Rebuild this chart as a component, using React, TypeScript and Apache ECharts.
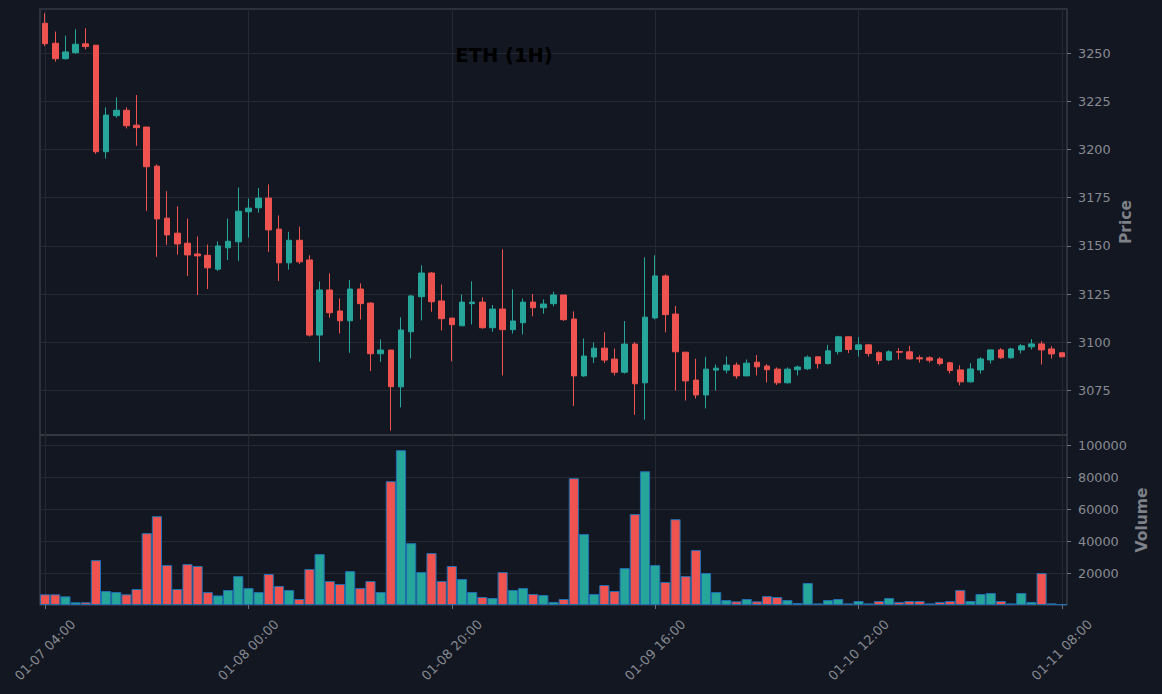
import React, { useEffect, useRef } from "react";
import * as echarts from "echarts";

const TITLE = "ETH (1H)";
const START_MONTH = 1;
const START_DAY = 7;
const START_HOUR = 4;
const HOURS = 101;

const OPENS = [
  3265.6, 3255.2, 3247.2, 3250.3, 3254.9, 3254.2, 3198.9, 3217.6, 3220.4, 3212.7,
  3211.7, 3191.4, 3164.4, 3156.6, 3151.4, 3145.8, 3145.1, 3137.9, 3149.0, 3152.1,
  3167.7, 3169.8, 3174.8, 3158.7, 3141.2, 3152.9, 3142.7, 3103.7, 3127.1, 3116.2,
  3111.1, 3127.6, 3120.3, 3094.0, 3095.9, 3076.8, 3105.4, 3123.6, 3135.9, 3121.4,
  3112.5, 3108.5, 3120.0, 3120.8, 3107.5, 3117.2, 3106.5, 3110.1, 3120.8, 3117.9,
  3120.0, 3124.5, 3112.0, 3082.5, 3092.3, 3096.9, 3091.2, 3084.4, 3099.0, 3078.9,
  3112.6, 3134.4, 3114.6, 3094.8, 3080.3, 3072.6, 3085.5, 3085.5, 3088.1, 3082.5,
  3089.6, 3087.6, 3086.0, 3078.9, 3085.7, 3086.2, 3092.4, 3088.9, 3095.1, 3102.8,
  3096.2, 3098.6, 3094.5, 3090.8, 3095.1, 3095.0, 3091.9, 3091.9, 3091.3, 3089.3,
  3085.6, 3079.4, 3085.6, 3090.8, 3096.0, 3091.9, 3096.0, 3097.6, 3099.1, 3096.5,
  3094.5,
];
const CLOSES = [
  3255.0, 3247.2, 3250.7, 3254.7, 3253.5, 3198.9, 3217.9, 3220.4, 3212.4, 3211.4,
  3191.1, 3164.0, 3155.7, 3151.0, 3145.3, 3144.8, 3138.6, 3150.0, 3152.4, 3168.0,
  3169.6, 3174.8, 3158.3, 3141.2, 3152.9, 3141.7, 3103.7, 3127.1, 3115.3, 3111.1,
  3127.6, 3120.0, 3094.0, 3095.9, 3076.9, 3106.3, 3124.0, 3135.9, 3121.0, 3112.2,
  3109.1, 3120.8, 3120.8, 3107.5, 3117.2, 3106.5, 3111.0, 3120.8, 3117.9, 3119.8,
  3124.5, 3111.7, 3082.5, 3092.8, 3096.9, 3090.7, 3084.4, 3099.0, 3078.4, 3113.0,
  3134.4, 3114.3, 3095.0, 3079.9, 3072.6, 3086.0, 3086.5, 3088.1, 3082.5, 3089.1,
  3087.2, 3085.7, 3078.9, 3086.0, 3087.1, 3092.2, 3088.9, 3095.5, 3102.8, 3096.2,
  3098.6, 3094.1, 3090.5, 3095.0, 3094.8, 3091.3, 3091.3, 3090.6, 3088.9, 3085.3,
  3079.4, 3086.1, 3091.3, 3096.0, 3091.9, 3096.5, 3098.1, 3099.1, 3096.0, 3093.9,
  3092.4,
];
const LOWS = [
  3253.8, 3245.7, 3246.7, 3249.8, 3252.0, 3197.8, 3195.4, 3216.6, 3211.0, 3202.0,
  3168.2, 3144.3, 3150.5, 3145.5, 3134.4, 3124.5, 3127.6, 3137.0, 3142.7, 3142.2,
  3154.3, 3167.3, 3146.9, 3131.8, 3137.7, 3140.6, 3102.9, 3089.8, 3112.7, 3104.5,
  3094.5, 3111.8, 3085.0, 3089.8, 3054.1, 3066.1, 3091.6, 3111.3, 3115.8, 3106.1,
  3090.0, 3108.5, 3109.2, 3107.0, 3105.4, 3082.7, 3104.5, 3104.0, 3113.4, 3114.8,
  3118.6, 3111.0, 3066.9, 3082.0, 3089.2, 3089.2, 3082.7, 3083.7, 3062.3, 3059.8,
  3111.8, 3105.1, 3074.9, 3069.7, 3070.7, 3065.6, 3074.9, 3083.8, 3081.0, 3082.5,
  3082.7, 3079.1, 3077.8, 3078.6, 3082.7, 3085.5, 3086.3, 3088.4, 3093.6, 3094.3,
  3092.5, 3092.5, 3088.4, 3090.3, 3091.0, 3091.0, 3089.4, 3089.4, 3087.9, 3083.7,
  3077.6, 3079.0, 3083.7, 3088.9, 3091.3, 3091.5, 3094.1, 3096.2, 3088.4, 3091.5,
  3092.2,
];
const HIGHS = [
  3270.8, 3261.3, 3259.2, 3262.5, 3263.0, 3254.2, 3221.9, 3227.1, 3221.9, 3228.3,
  3211.7, 3192.3, 3178.4, 3170.5, 3164.2, 3154.9, 3150.7, 3152.3, 3164.2, 3180.3,
  3174.6, 3180.0, 3181.9, 3165.8, 3157.3, 3160.0, 3145.1, 3131.6, 3135.7, 3122.7,
  3132.3, 3130.5, 3120.7, 3101.4, 3095.9, 3112.9, 3124.5, 3139.9, 3136.4, 3130.0,
  3112.5, 3124.8, 3131.6, 3123.3, 3119.3, 3148.2, 3127.4, 3122.7, 3125.0, 3122.2,
  3126.2, 3124.5, 3116.0, 3101.9, 3099.9, 3105.1, 3096.7, 3111.0, 3100.0, 3144.0,
  3145.1, 3135.2, 3118.8, 3094.8, 3091.4, 3092.4, 3088.4, 3092.6, 3089.5, 3091.0,
  3093.3, 3088.6, 3086.9, 3086.9, 3087.9, 3093.1, 3092.4, 3098.6, 3103.3, 3102.8,
  3102.6, 3099.1, 3095.3, 3095.8, 3096.9, 3098.1, 3093.2, 3092.7, 3092.2, 3089.8,
  3088.0, 3089.1, 3092.2, 3096.0, 3096.9, 3097.1, 3099.0, 3101.6, 3100.5, 3097.9,
  3094.8,
];
const VOLUMES = [
  6700, 6700, 5400, 1700, 1700, 28100, 8750, 8100, 6700, 10000,
  45000, 55600, 25000, 10000, 25600, 24400, 8100, 6000, 9400, 18100,
  10600, 8100, 19400, 11900, 9400, 3750, 22500, 31900, 15000, 13100,
  21200, 10600, 15000, 8100, 77500, 96900, 38700, 20600, 32500, 15000,
  24400, 16250, 8100, 5000, 4400, 20600, 9400, 10600, 6900, 6250,
  1900, 3750, 79400, 44400, 6900, 12500, 8750, 23100, 56900, 83700,
  25000, 14400, 53700, 18100, 34400, 20000, 8100, 3100, 2300, 3750,
  2300, 5600, 5000, 3100, 1250, 13750, 1000, 3100, 3750, 1000,
  2500, 1000, 2500, 4400, 1900, 2500, 2500, 1000, 1900, 2500,
  9400, 2500, 6900, 7500, 2500, 1000, 7500, 1900, 20000, 1000,
  500,
];

const PRICE_TICKS = [3075, 3100, 3125, 3150, 3175, 3200, 3225, 3250];
const VOLUME_TICKS = [20000, 40000, 60000, 80000, 100000];
const PRICE_MIN = 3051.8;
const PRICE_MAX = 3273;
const VOLUME_MAX = 106400;
const LABEL_EVERY = 20;

const BG = "#131722";
const UP = "#26a69a";
const DOWN = "#ef5350";
const EDGE = "#1f6fb2";
const FRAME = "#383b44";
const GRID = "#252932";
const LABEL = "#888b92";
const NAME = "#7e8188";
const FONT = "DejaVu Sans";

function pad(n: number): string {
  return n < 10 ? "0" + n : String(n);
}

function makeCategories(): string[] {
  const out: string[] = [];
  for (let i = 0; i < HOURS; i++) {
    const total = START_HOUR + i;
    const day = START_DAY + Math.floor(total / 24);
    const hour = total % 24;
    out.push(pad(START_MONTH) + "-" + pad(day) + " " + pad(hour) + ":00");
  }
  return out;
}

const plain = (v: number) => String(v);

export default function App() {
  const ref = useRef<HTMLDivElement>(null);

  useEffect(() => {
    document.body.style.margin = "0";
    document.body.style.background = BG;
    const el = ref.current;
    if (!el) return;
    const chart = echarts.init(el, null, { renderer: "svg" });
    const categories = makeCategories();
    const candles = OPENS.map((o, i) => [o, CLOSES[i], LOWS[i], HIGHS[i]]);
    const vols = VOLUMES.map((v, i) => ({
      value: v,
      itemStyle: { color: CLOSES[i] >= OPENS[i] ? UP : DOWN },
    }));
    const interval = LABEL_EVERY - 1;

    const option: any = {
      animation: false,
      backgroundColor: BG,
      textStyle: { fontFamily: FONT },
      graphic: [
        {
          type: "text",
          x: 504,
          y: 55,
          style: {
            text: TITLE,
            fill: "#000000",
            font: "bold 19.5px 'DejaVu Sans'",
            textAlign: "center",
            textVerticalAlign: "middle",
          },
          z: 100,
        },
      ],
      grid: [
        {
          left: 40,
          top: 9,
          width: 1027,
          height: 426,
          show: true,
          borderColor: FRAME,
          borderWidth: 1.5,
          backgroundColor: "transparent",
          outerBoundsMode: "none",
        },
        {
          left: 40,
          top: 435,
          width: 1027,
          height: 170,
          show: true,
          borderColor: FRAME,
          borderWidth: 1.5,
          backgroundColor: "transparent",
          outerBoundsMode: "none",
        },
      ],
      xAxis: [
        {
          type: "category",
          gridIndex: 0,
          data: categories,
          boundaryGap: true,
          axisLine: { show: false },
          axisTick: { show: false, interval, alignWithLabel: true },
          axisLabel: { show: false, interval },
          splitLine: {
            show: true,
            interval,
            alignWithLabel: true,
            lineStyle: { color: GRID, width: 1 },
          },
        },
        {
          type: "category",
          gridIndex: 1,
          data: categories,
          boundaryGap: true,
          axisLine: { show: false },
          axisTick: {
            show: true,
            interval,
            alignWithLabel: true,
            length: 4,
            lineStyle: { color: "#6f727a", width: 1 },
          },
          axisLabel: {
            show: true,
            interval,
            rotate: 45,
            align: "center",
            verticalAlign: "middle",
            margin: 45,
            color: LABEL,
            fontSize: 13,
            fontFamily: FONT,
          },
          splitLine: {
            show: true,
            interval,
            alignWithLabel: true,
            lineStyle: { color: GRID, width: 1 },
          },
        },
      ],
      yAxis: [
        {
          type: "value",
          gridIndex: 0,
          position: "right",
          min: PRICE_MIN,
          max: PRICE_MAX,
          name: "Price",
          nameLocation: "middle",
          nameGap: 51,
          nameMoveOverlap: false,
          nameTextStyle: {
            color: NAME,
            fontSize: 15.5,
            fontWeight: "bold",
            fontFamily: FONT,
          },
          axisLine: { show: false },
          axisTick: {
            show: true,
            length: 4,
            customValues: PRICE_TICKS,
            lineStyle: { color: "#6f727a", width: 1 },
          },
          axisLabel: {
            show: true,
            customValues: PRICE_TICKS,
            formatter: plain,
            margin: 11,
            color: LABEL,
            fontSize: 12.8,
            fontFamily: FONT,
          },
          splitLine: { show: true, lineStyle: { color: GRID, width: 1 } },
        },
        {
          type: "value",
          gridIndex: 1,
          position: "right",
          min: 0,
          max: VOLUME_MAX,
          name: "Volume",
          nameLocation: "middle",
          nameGap: 67,
          nameMoveOverlap: false,
          nameTextStyle: {
            color: NAME,
            fontSize: 15.5,
            fontWeight: "bold",
            fontFamily: FONT,
          },
          axisLine: { show: false },
          axisTick: {
            show: true,
            length: 4,
            customValues: VOLUME_TICKS,
            lineStyle: { color: "#6f727a", width: 1 },
          },
          axisLabel: {
            show: true,
            customValues: VOLUME_TICKS,
            formatter: plain,
            margin: 11,
            color: LABEL,
            fontSize: 12.8,
            fontFamily: FONT,
          },
          splitLine: { show: true, lineStyle: { color: GRID, width: 1 } },
        },
      ],
      series: [
        {
          type: "candlestick",
          xAxisIndex: 0,
          yAxisIndex: 0,
          data: candles,
          barWidth: "60%",
          itemStyle: {
            color: UP,
            color0: DOWN,
            borderColor: UP,
            borderColor0: DOWN,
            borderWidth: 1,
          },
        },
        {
          type: "bar",
          xAxisIndex: 1,
          yAxisIndex: 1,
          data: vols,
          barCategoryGap: "0%",
          itemStyle: { borderColor: EDGE, borderWidth: 1 },
        },
      ],
    };

    chart.setOption(option);
    return () => {
      chart.dispose();
    };
  }, []);

  return <div ref={ref} style={{ width: 1162, height: 694 }} />;
}
